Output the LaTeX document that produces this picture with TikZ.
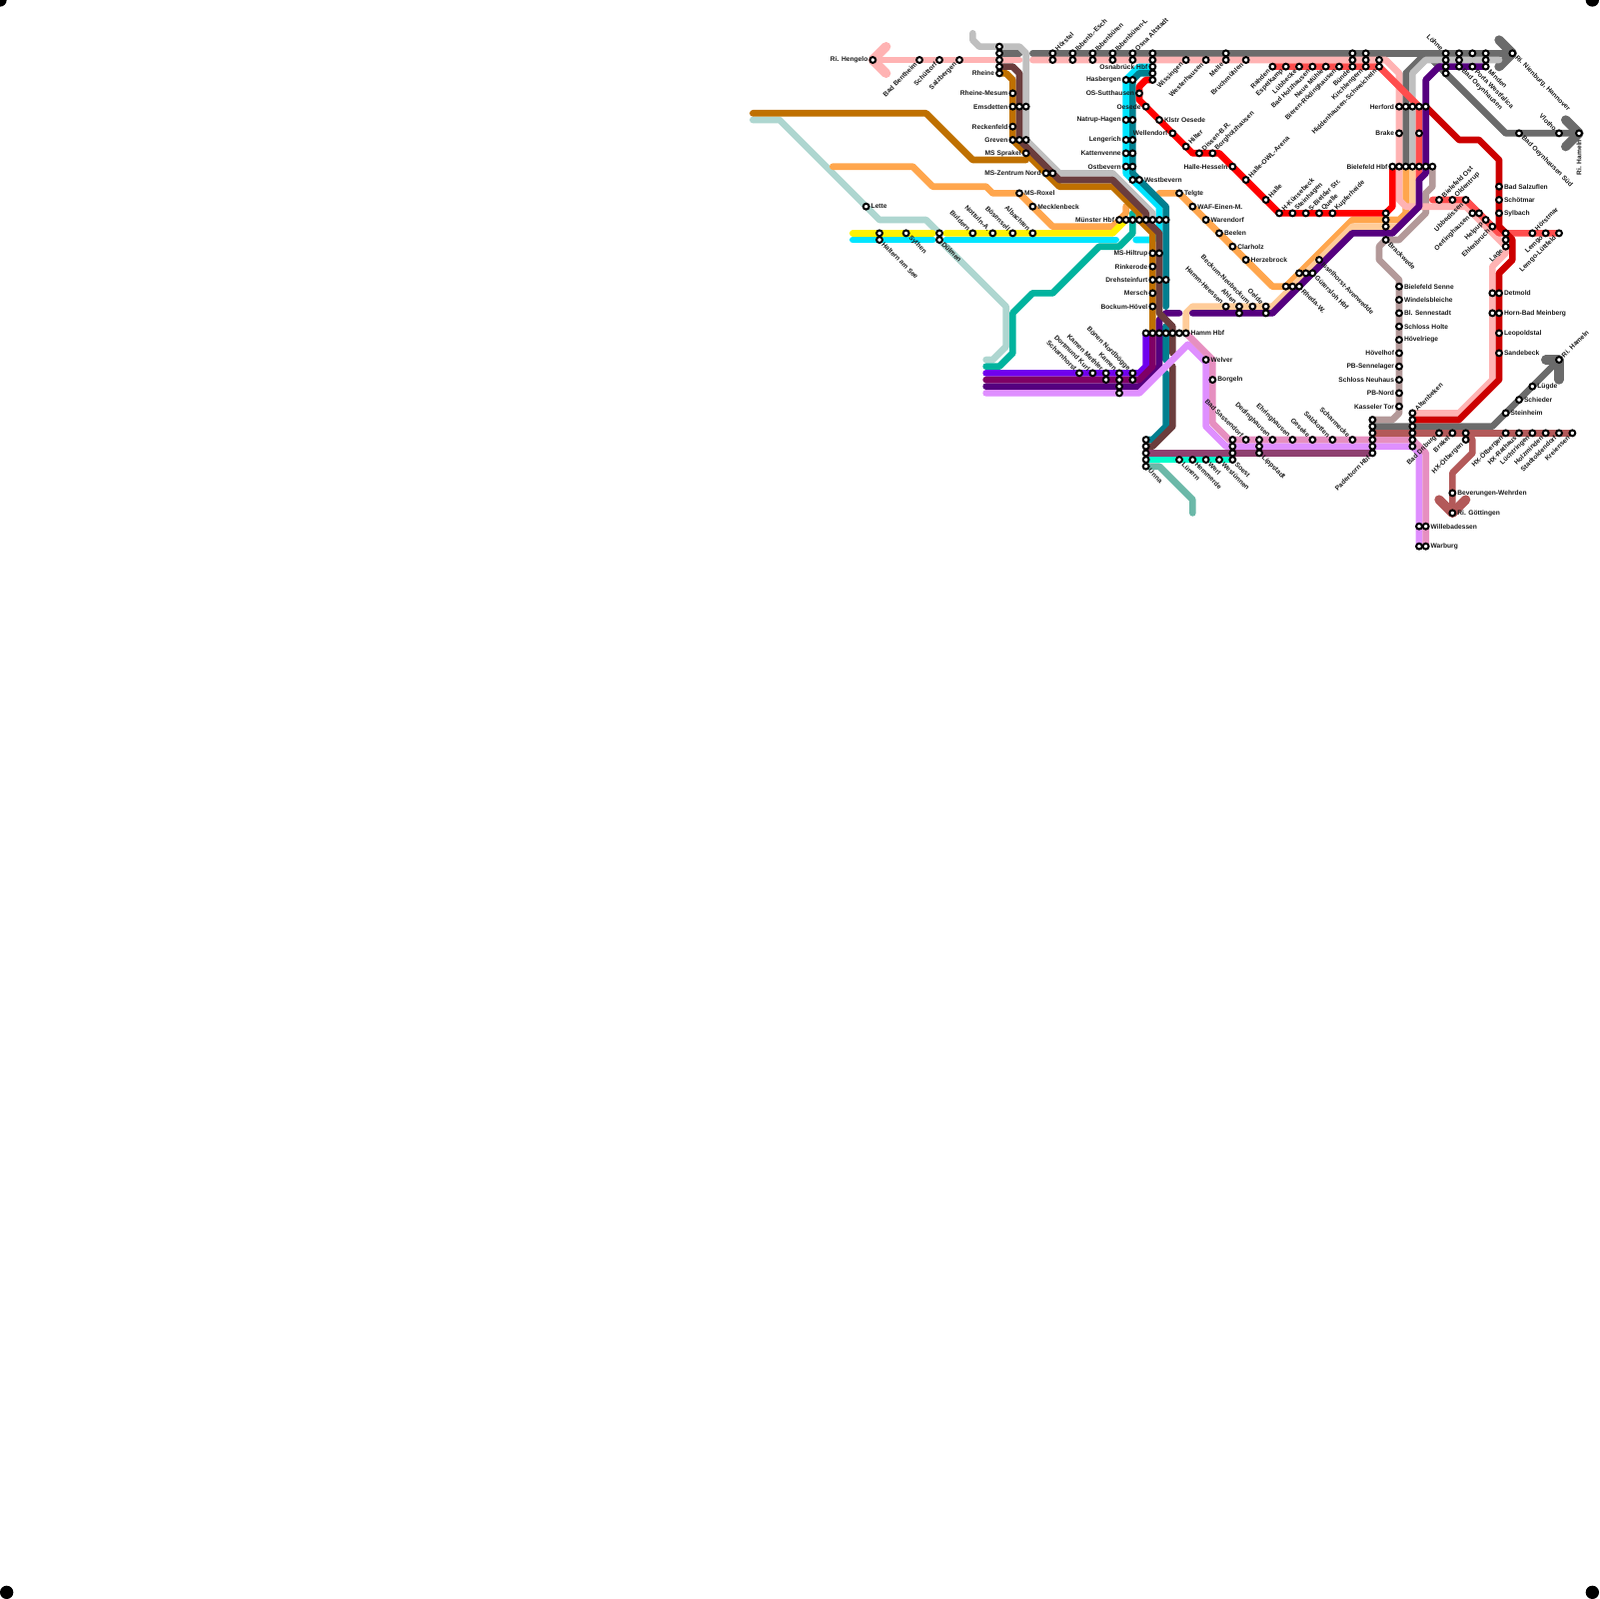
\documentclass[tikz,border=0pt]{standalone}
\usepackage{fontspec}
\setmainfont{Liberation Sans}
\usetikzlibrary{calc}
\pgfdeclarelayer{routes}
\pgfsetlayers{routes,main}
\definecolor{cPink}{HTML}{FFB3B3}
\definecolor{cGray}{HTML}{6B6B6B}
\definecolor{cSilver}{HTML}{BFBFBF}
\definecolor{cBrown}{HTML}{6B3D3D}
\definecolor{cOchre}{HTML}{BF7000}
\definecolor{cMint}{HTML}{AED6D0}
\definecolor{cOrange}{HTML}{FFA64D}
\definecolor{cYellow}{HTML}{FFF200}
\definecolor{cCyan}{HTML}{00E5FF}
\definecolor{cTeal}{HTML}{00B39E}
\definecolor{cDTeal}{HTML}{007F8F}
\definecolor{cRed}{HTML}{FF0000}
\definecolor{cSalmon}{HTML}{FF4D4D}
\definecolor{cDRed}{HTML}{CC0000}
\definecolor{cPurple}{HTML}{55007F}
\definecolor{cViolet}{HTML}{7000EE}
\definecolor{cMagenta}{HTML}{7F0066}
\definecolor{cLViolet}{HTML}{DF8FFF}
\definecolor{cMauve}{HTML}{E68FC0}
\definecolor{cMaroon}{HTML}{8F4070}
\definecolor{cTurq}{HTML}{00FFCC}
\definecolor{cGGray}{HTML}{6BB8A8}
\definecolor{cPeach}{HTML}{FFCC99}
\definecolor{cTaupe}{HTML}{B39999}
\definecolor{cDusty}{HTML}{B35959}
\tikzset{
 st/.style={circle,draw=black,fill=white,line width=.3mm,minimum size=.88mm,inner sep=0pt,outer sep=0pt},
 lb/.style={inner sep=0pt,outer sep=0pt,text=black!90,font=\fontsize{2.85pt}{3.2pt}\selectfont\bfseries},
 rt/.style={line width=1mm,line cap=round,line join=round},
 arm/.style={line width=1.4mm,line cap=round,line join=round},
 cornerdot/.style={circle,fill=black,minimum size=2mm,inner sep=0pt,outer sep=0pt}
}
\newcommand\sP[3]{\node[st] (#1) at (#2,#3) {};}
\newcommand\sR[4]{\sP{#1}{#2}{#3}\node[lb,anchor=west] (t#1) at ($(#1.center)+(.75,0)$) {#4};}
\newcommand\sL[4]{\sP{#1}{#2}{#3}\node[lb,anchor=east] (t#1) at ($(#1.center)+(-.75,0)$) {#4};}
\newcommand\sUR[4]{\sP{#1}{#2}{#3}\node[lb,anchor=west,rotate=45] (t#1) at ($(#1.center)+(.55,-.55)$) {#4};}
\newcommand\sDR[4]{\sP{#1}{#2}{#3}\node[lb,anchor=west,rotate=-45] (t#1) at ($(#1.center)+(.55,.55)$) {#4};}
\newcommand\sUL[4]{\sP{#1}{#2}{#3}\node[lb,anchor=east,rotate=-45] (t#1) at ($(#1.center)+(-.55,-.55)$) {#4};}
\newcommand\sDL[4]{\sP{#1}{#2}{#3}\node[lb,anchor=east,rotate=45] (t#1) at ($(#1.center)+(-.55,.55)$) {#4};}
\begin{document}
\begin{tikzpicture}[x=1mm,y=-1mm]
\useasboundingbox (0,0) rectangle (240,240);
\clip (0,0) rectangle (240,240);
% corner marks
\node[cornerdot] (c1) at (0,0) {};
\node[cornerdot] (c2) at (239,0) {};
\node[cornerdot] (c3) at (1,239) {};
\node[cornerdot] (c4) at (239,239) {};
% free line ends
\coordinate (eMint) at (113,18);
\coordinate (eMintB) at (148,54);
\coordinate (eOrA) at (125,25);
\coordinate (eOrB) at (169,31);
\coordinate (eOrC) at (174,29);
\coordinate (eOrD) at (211,25);
\coordinate (eTealT) at (170,32);
\coordinate (eTealB) at (148,55);
\coordinate (eOch) at (113,17);
\coordinate (eSil) at (146,5);
\coordinate (eGG) at (179,77);
% stations: west
\sL{heng}{131}{9}{Ri. Hengelo}
\sDL{bent}{138}{9}{Bad Bentheim}
\sDL{schu}{141}{9}{Schüttorf}
\sDL{salz}{144}{9}{Salzbergen}
\sP{rhA}{150}{7}\sP{rhB}{150}{8}\sP{rhC}{150}{9}\sP{rhD}{150}{10}
\sL{rhE}{150}{11}{Rheine}
\sL{mesum}{152}{14}{Rheine-Mesum}
\sL{emsA}{152}{16}{Emsdetten}\sP{emsB}{153}{16}\sP{emsC}{154}{16}
\sL{reck}{152}{19}{Reckenfeld}
\sL{greA}{152}{21}{Greven}\sP{greB}{153}{21}\sP{greC}{154}{21}
\sL{spr}{154}{23}{MS Sprakel}
\sL{zenA}{157}{26}{MS-Zentrum Nord}\sP{zenB}{158}{26}
\sR{rox}{153}{29}{MS-Roxel}
\sR{meck}{155}{31}{Mecklenbeck}
\sUL{buld}{146}{35}{Buldern}
\sUL{nott}{149}{35}{Nottuln-A.}
\sUL{bose}{152}{35}{Bösensell}
\sUL{alba}{155}{35}{Albachten}
\sR{lette}{130}{31}{Lette}
\sP{halA}{132}{35}\sDR{halB}{132}{36}{Haltern am See}
\sDR{syth}{136}{35}{Sythen}
\sP{dulA}{141}{35}\sDR{dulB}{141}{36}{Dülmen}
% top row
\sUR{horA}{158}{8}{Hörstel}\sP{horB}{158}{9}
\sUR{escA}{161}{8}{Ibbenb.-Esch}\sP{escB}{161}{9}
\sUR{ibbA}{164}{8}{Ibbenbüren}\sP{ibbB}{164}{9}
\sUR{iblA}{167}{8}{Ibbenbüren-L}\sP{iblB}{167}{9}
\sUR{altA}{170}{8}{Osna Altstadt}\sP{altB}{170}{9}
\sP{osA}{173}{8}\sP{osB}{173}{9}\sL{osC}{173}{10}{Osnabrück Hbf}\sP{osD}{173}{11}\sP{osE}{173}{12}
\sDL{wiss}{178}{9}{Wissingen}
\sDL{west}{181}{9}{Westerhausen}
\sP{melA}{184}{8}\sDL{melB}{184}{9}{Melle}
\sDL{bruch}{187}{9}{Bruchmühlen}
\sDL{rahd}{191}{10}{Rahden}
\sDL{espe}{193}{10}{Espelkamp}
\sDL{lueb}{195}{10}{Lübbecke}
\sDL{bhol}{197}{10}{Bad Holzhausen}
\sDL{neue}{199}{10}{Neue Mühle}
\sDL{bier}{201}{10}{Bieren-Rödinghausen}
\sP{bunA}{203}{8}\sP{bunB}{203}{9}\sDL{bunC}{203}{10}{Bünde}
\sP{kirA}{205}{8}\sP{kirB}{205}{9}\sDL{kirC}{205}{10}{Kirchlengern}
\sP{hidA}{207}{9}\sDL{hidB}{207}{10}{Hiddenhausen-Schweicheln}
\sUL{loeA}{217}{8}{Löhne}\sP{loeB}{217}{9}\sP{loeC}{217}{10}\sP{loeD}{217}{11}
\sP{oeyA}{219}{8}\sP{oeyB}{219}{9}\sDR{oeyC}{219}{10}{Bad Oeynhausen}
\sP{porA}{221}{8}\sDR{porB}{221}{10}{Porta Westfalica}
\sP{minA}{223}{8}\sP{minB}{223}{9}\sDR{minC}{223}{10}{Minden}
\sDR{nien}{227}{8}{Ri. Nienburg, Hannover}
\sDR{oeys}{228}{20}{Bad Oeynhausen Süd}
\sUL{vlot}{234}{20}{Vlotho}
\sP{hamA}{237}{20}
\node[lb,anchor=east,rotate=90] (thamA) at ($(hamA.center)+(0,1)$) {Ri. Hameln};
% Osnabrueck - Muenster corridor
\sL{hasA}{169}{12}{Hasbergen}\sP{hasB}{170}{12}
\sL{sutt}{171}{14}{OS-Sutthausen}
\sL{oese}{172}{16}{Oesede}
\sL{natA}{169}{18}{Natrup-Hagen}\sP{natB}{170}{18}
\sL{lenA}{169}{21}{Lengerich}\sP{lenB}{170}{21}
\sL{katA}{169}{23}{Kattenvenne}\sP{katB}{170}{23}
\sL{ostA}{169}{25}{Ostbevern}\sP{ostB}{170}{25}
\sP{wbvA}{170}{27}\sR{wbvB}{171}{27}{Westbevern}
\sR{klos}{174}{18}{Klstr Oesede}
\sL{well}{176}{20}{Wellendorf}
\sUR{hilt}{178}{22}{Hilter}
\sUR{diss}{180}{23}{Dissen-B.R.}
\sUR{borg}{182}{23}{Borgholzhausen}
\sL{hess}{185}{25}{Halle-Hesseln}
\sUR{owl}{187}{27}{Halle-OWL-Arena}
\sUR{hall}{190}{30}{Halle}
\sUR{kuen}{192}{32}{H-Künsebeck}
\sUR{stei}{194}{32}{Steinhagen}
\sUR{sbie}{196}{32}{S-Bielder Str.}
\sUR{quel}{198}{32}{Quelle}
\sUR{kupf}{200}{32}{Kupferheide}
\sL{munA}{168}{33}{Münster Hbf}\sP{munB}{169}{33}\sP{munC}{170}{33}\sP{munD}{171}{33}\sP{munE}{172}{33}\sP{munF}{173}{33}\sP{munG}{174}{33}\sP{munH}{175}{33}
\sR{telg}{177}{29}{Telgte}
\sR{waf}{179}{31}{WAF-Einen-M.}
\sR{ware}{181}{33}{Warendorf}
\sR{beel}{183}{35}{Beelen}
\sR{clar}{185}{37}{Clarholz}
\sR{herz}{187}{39}{Herzebrock}
\sL{hilA}{173}{38}{MS-Hiltrup}\sP{hilB}{174}{38}
\sL{rink}{173}{40}{Rinkerode}
\sL{dreA}{173}{42}{Drehsteinfurt}\sP{dreB}{174}{42}\sP{dreC}{175}{42}
\sL{mers}{173}{44}{Mersch}
\sL{bock}{173}{46}{Bockum-Hövel}
\sP{hmA}{172}{50}\sP{hmB}{173}{50}\sP{hmC}{174}{50}\sP{hmD}{175}{50}\sP{hmE}{176}{50}\sP{hmF}{177}{50}
\sR{hmG}{178}{50}{Hamm Hbf}
\sUL{scha}{162}{56}{Scharnhorst}
\sUL{kurl}{164}{56}{Dortmund Kurl}
\sUL{metA}{166}{56}{Kamen Methler}\sP{metB}{166}{57}
\sUL{kamA}{168}{56}{Kamen}\sP{kamB}{168}{57}\sP{kamC}{168}{58}\sP{kamD}{168}{59}
\sUL{bonA}{170}{56}{Bönen Nordbögge}\sP{bonB}{170}{57}
% Hamm - Bielefeld
\sUL{hees}{184}{46}{Hamm-Heessen}
\sUL{ahlA}{186}{46}{Ahlen}\sP{ahlB}{186}{47}
\sUL{neub}{188}{46}{Beckum-Neubeckum}
\sUL{oelA}{190}{46}{Oelde}\sP{oelB}{190}{47}
\sP{rheA}{193}{43}\sP{rheB}{194}{43}\sDR{rheC}{195}{43}{Rheda-W.}
\sP{gutA}{195}{41}\sP{gutB}{196}{41}\sDR{gutC}{197}{41}{Gütersloh Hbf}
\sDR{isse}{198}{39}{Isselhorst-Avenwedde}
\sP{ambA}{208}{32}\sP{ambB}{208}{33}\sP{ambC}{208}{34}
\sDR{brack}{208}{36}{Brackwede}
% Bielefeld
\sL{bieA}{209}{25}{Bielefeld Hbf}\sP{bieB}{210}{25}\sP{bieC}{211}{25}\sP{bieD}{212}{25}\sP{bieE}{213}{25}\sP{bieF}{214}{25}\sP{bieG}{215}{25}
\sL{hfA}{210}{16}{Herford}\sP{hfB}{211}{16}\sP{hfC}{212}{16}\sP{hfD}{213}{16}\sP{hfE}{214}{16}
\sL{brkA}{210}{20}{Brake}\sP{brkB}{213}{20}
\sR{bsal}{225}{28}{Bad Salzuflen}
\sR{scho}{225}{30}{Schötmar}
\sR{sylb}{225}{32}{Sylbach}
\sUR{bost}{216}{30}{Bielefeld Ost}
\sUR{oldt}{218}{30}{Oldentrup}
\sDL{ubbe}{220}{30}{Ubbedissen}
\sDL{oerA}{221}{32}{Oerlinghausen}\sP{oerB}{222}{32}
\sDL{help}{223}{33}{Helpup}
\sDL{ehle}{224}{34}{Ehlenbruch}
\sP{lgA}{226}{35}\sP{lgB}{226}{36}\sDL{lgC}{226}{37}{Lage}
\sUR{hors}{230}{35}{Hörstmar}
\sDL{lemg}{232}{35}{Lemgo}
\sDL{lutt}{234}{35}{Lemgo-Lüttfeld}
\sP{detA}{224}{44}\sR{detB}{225}{44}{Detmold}
\sP{horA2}{224}{47}\sR{horB2}{225}{47}{Horn-Bad Meinberg}
\sR{leop}{225}{50}{Leopoldstal}
\sR{sand}{225}{53}{Sandebeck}
\sR{senn}{210}{43}{Bielefeld Senne}
\sR{wind}{210}{45}{Windelsbleiche}
\sR{sena}{210}{47}{Bl. Sennestadt}
\sR{holt}{210}{49}{Schloss Holte}
\sR{hoev}{210}{51}{Hövelriege}
\sL{hovh}{210}{53}{Hövelhof}
\sL{sene}{210}{55}{PB-Sennelager}
\sL{neuh}{210}{57}{Schloss Neuhaus}
\sL{pbno}{210}{59}{PB-Nord}
\sL{kass}{210}{61}{Kasseler Tor}
% Hellweg
\sR{welv}{181}{54}{Welver}
\sR{borl}{182}{57}{Borgeln}
\sP{unA}{172}{66}\sP{unB}{172}{67}\sP{unC}{172}{68}\sP{unD}{172}{69}\sDR{unE}{172}{70}{Unna}
\sDR{luen}{177}{69}{Lünern}
\sDR{hemm}{179}{69}{Hemmerde}
\sDR{werl}{181}{69}{Werl}
\sDR{wtue}{183}{69}{Westünnen}
\sP{soeA}{185}{66}\sP{soeB}{185}{67}\sP{soeC}{185}{68}\sDR{soeD}{185}{69}{Soest}
\sUL{sass}{187}{66}{Bad Sassendorf}
\sP{lipA}{189}{66}\sP{lipB}{189}{67}\sDR{lipC}{189}{68}{Lippstadt}
\sUL{dedi}{191}{66}{Dedinghausen}
\sUL{ehri}{194}{66}{Ehringhausen}
\sUL{gese}{197}{66}{Geseke}
\sUL{salk}{200}{66}{Salzkotten}
\sUL{scme}{203}{66}{Scharmecke}
\sP{pbA}{206}{63}\sP{pbB}{206}{64}\sP{pbC}{206}{65}\sP{pbD}{206}{66}\sP{pbE}{206}{67}\sDL{pbF}{206}{68}{Paderborn Hbf}
\sUR{abA}{212}{62}{Altenbeken}\sP{abB}{212}{63}\sP{abC}{212}{64}\sP{abD}{212}{65}\sP{abE}{212}{66}\sP{abF}{212}{67}
\sDL{drib}{216}{65}{Bad Driburg}
\sDL{brak}{218}{65}{Brakel}
\sP{otaA}{220}{65}\sDL{otaB}{220}{66}{HX-Ötbergen}
\sDL{otb}{226}{65}{HX-Ötbergen}
\sDL{rath}{228}{65}{HX-Rathaus}
\sDL{luec}{230}{65}{Lüchtringen}
\sDL{holz}{232}{65}{Holzminden}
\sDL{stad}{234}{65}{Stadtoldendorf}
\sDL{krei}{236}{65}{Kreiensen}
\sR{stnh}{226}{62}{Steinheim}
\sR{schi}{228}{60}{Schieder}
\sR{luge}{230}{58}{Lügde}
\sUR{hame}{234}{54}{Ri. Hameln}
\sR{beve}{218}{74}{Beverungen-Wehrden}
\sR{goet}{218}{77}{Ri. Göttingen}
\sP{wilA}{213}{79}\sR{wilB}{214}{79}{Willebadessen}
\sP{warA}{213}{82}\sR{warB}{214}{82}{Warburg}
% routes
\begin{pgfonlayer}{routes}
\draw[rt,cMint] (eMint) -- (117,18) -- (132,33) -- (139,33) -- (dulA.center) -- (dulB.center) -- (151,46) -- (151,52) -- (149,54) -- (eMintB);
\draw[rt,cOrange] (eOrA) -- (137,25) -- (140,28) -- (148,28) -- (149,29) -- (rox.center) -- (158,34) -- (167,34) -- (169,32) -- (eOrB);
\draw[rt,cOrange] (eOrC) -- (telg.center) -- (191,43) -- (193,43) -- (203,33) -- (210,33) -- (211,32) -- (eOrD);
\draw[rt,cPeach] (hmG.center) -- (178,47) -- (179,46) -- (191,46) -- (203,34) -- (210,34) -- (212,32) -- (bieD.center);
\draw[rt,cYellow] (128,35) -- (140,35);
\draw[rt,cYellow] (142,35) -- (167,35) -- (munB.center);
\draw[rt,cCyan] (128,36) -- (140,36);
\draw[rt,cCyan] (142,36) -- (167.5,36);
\draw[rt,cCyan] (170.5,36) -- (173,36) -- (174,35) -- (174,31) -- (169,26) -- (169,12) -- (171,10) -- (osC.center);
\draw[rt,cTeal] (eTealT) -- (170,35) -- (168,37) -- (165,37) -- (158,44) -- (155,44) -- (152,47) -- (152,53) -- (150,55) -- (eTealB);
\draw[rt,cDTeal] (osD.center) -- (171,11) -- (170,12) -- (170,26) -- (175,31) -- (175,46);
\draw[rt,cDTeal] (175,49) -- (175,54);
\draw[rt,cDTeal] (175,56) -- (175,64) -- (173,66) -- (unA.center);
\draw[rt,cOchre] (eOch) -- (139,17) -- (146,24) -- (154,24);
\draw[rt,cOchre] (rhE.center) -- (151,11) -- (152,12) -- (152,21) -- (159,28) -- (167,28) -- (171,32) -- (171,33) -- (173,35) -- (hmB.center);
\draw[rt,cTaupe] (bieG.center) -- (215,28) -- (214,29) -- (214,32) -- (210,36) -- (208,36) -- (207,37) -- (207,39) -- (210,42) -- (210,62) -- (209,63) -- (pbA.center);
\draw[rt,cGray] (rhB.center) -- (153,8);
\draw[rt,cGray] (155,8) -- (nien.center);
\draw[arm,cGray] (225,6) -- (nien.center) -- (225,10);
\draw[rt,cGray] (bieC.center) -- (211,11) -- (214,8) -- (226,20) -- (hamA.center);
\draw[arm,cGray] (235,18) -- (hamA.center) -- (235,22);
\draw[rt,cGray] (pbB.center) -- (224,64) -- (hame.center);
\draw[arm,cGray] (232,54) -- (hame.center) -- (234,57);
\draw[rt,cSilver] (eSil) -- (146,6) -- (147,7) -- (153,7) -- (154,8) -- (greC.center) -- (159,26) -- (167,26) -- (173,32) -- (munF.center);
\draw[rt,cSilver] (bieD.center) -- (212,11) -- (214,9) -- (225,9);
\draw[rt,cPink] (heng.center) -- (153,9);
\draw[arm,cPink] (133,7) -- (heng.center) -- (133,11);
\draw[rt,cPink] (155,9) -- (208,9) -- (210,11) -- (210,30) -- (211,31) -- (220,31) -- (lgC.center) -- (226,38) -- (224,40) -- (224,57) -- (219,62) -- (abA.center);
\draw[rt,cSalmon] (rahd.center) -- (207,10) -- (213,16) -- (213,27);
\draw[rt,cSalmon] (215,30) -- (220,30) -- (225,35) -- (lutt.center);
\draw[rt,cRed] (osE.center) -- (172,12) -- (171,13) -- (171,15) -- (179,23) -- (183,23) -- (192,32) -- (208,32) -- (209,31) -- (bieA.center);
\draw[rt,cDRed] (hfE.center) -- (219,21) -- (222,21) -- (225,24) -- (225,34) -- (227,36) -- (227,39) -- (225,41) -- (225,57) -- (219,63) -- (abB.center);
\draw[rt,cPurple] (minC.center) -- (216,10) -- (214,12) -- (214,26) -- (213,27) -- (213,31) -- (209,35) -- (203,35) -- (191,47) -- (179,47);
\draw[rt,cPurple] (177,47) -- (175,47) -- (174,48) -- (174,55) -- (171,58) -- (148,58);
\draw[rt,cViolet] (148,56) -- (171,56) -- (172,55) -- (hmA.center);
\draw[rt,cMagenta] (148,57) -- (171,57) -- (173,55) -- (hmB.center);
\draw[rt,cBrown] (rhD.center) -- (152,10) -- (153,11) -- (greB.center) -- (159,27) -- (167,27) -- (172,32) -- (172,33) -- (174,35) -- (174,47) -- (176,49) -- (176,53);
\draw[rt,cBrown] (176,55) -- (176,64) -- (173,67) -- (unB.center);
\draw[rt,cLViolet] (148,59) -- (171,59) -- (178.3,51.7) -- (181,54.4) -- (181,64) -- (184,67) -- (212,67) -- (213,68) -- (warA.center);
\draw[rt,cMauve] (hmG.center) -- (182,54) -- (182,63.5) -- (184.5,66) -- (212,66) -- (214,68) -- (warB.center);
\draw[rt,cMaroon] (unC.center) -- (pbF.center);
\draw[rt,cGGray] (unE.center) -- (174,70) -- (179,75) -- (eGG);
\draw[rt,cTurq] (unD.center) -- (soeD.center);
\draw[rt,cDusty] (pbC.center) -- (krei.center);
\draw[rt,cDusty] (otaA.center) -- (221,66) -- (221,68) -- (218,71) -- (goet.center);
\draw[arm,cDusty] (216,75) -- (goet.center) -- (220,75);
\end{pgfonlayer}
\end{tikzpicture}
\end{document}
